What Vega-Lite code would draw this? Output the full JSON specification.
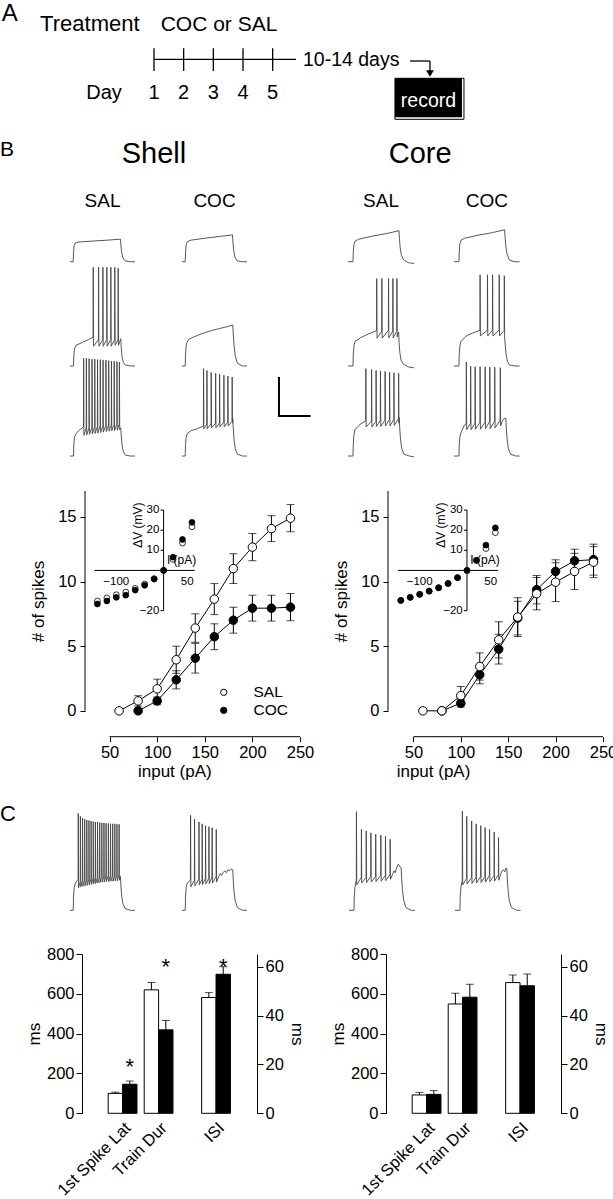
{
"$schema":"https://vega.github.io/schema/vega-lite/v6.json",
"background":"white",
"padding":0,
"spacing":0,
"resolve":{"scale":{"fill":"independent"},"legend":{"fill":"independent"}},
"config":{
 "font":"Liberation Sans",
 "view":{"stroke":null},
 "axis":{"labelFont":"Liberation Sans","titleFont":"Liberation Sans","labelColor":"black","titleColor":"black","domainColor":"black","tickColor":"black","titleFontWeight":"normal","grid":false,"labelFontSize":16.5,"titleFontSize":17,"domainWidth":1,"tickWidth":1,"labelOverlap":false,"labelSeparation":0},
 "legend":{"labelFont":"Liberation Sans","labelColor":"black"},
 "title":{"font":"Liberation Sans","fontWeight":"normal","color":"black"},
 "text":{"font":"Liberation Sans","color":"black"},
 "line":{"strokeJoin":"round","strokeCap":"butt"}
},
"datasets":{
 "sS1":[{"t":0,"v":-80},{"t":21,"v":-80},{"t":23,"v":-70},{"t":27,"v":-63},{"t":35,"v":-60},{"t":60,"v":-59},{"t":150,"v":-58},{"t":250,"v":-57},{"t":330,"v":-56},{"t":333,"v":-63},{"t":338,"v":-70},{"t":346,"v":-76},{"t":360,"v":-79},{"t":390,"v":-80},{"t":425,"v":-80}],
 "sC1":[{"t":0,"v":-80},{"t":21,"v":-80},{"t":23,"v":-70},{"t":27,"v":-62},{"t":35,"v":-58.5},{"t":60,"v":-57},{"t":150,"v":-55},{"t":250,"v":-53},{"t":330,"v":-51.5},{"t":333,"v":-59},{"t":338,"v":-68},{"t":346,"v":-75},{"t":360,"v":-79},{"t":390,"v":-80},{"t":425,"v":-80}],
 "cS1":[{"t":0,"v":-80},{"t":32,"v":-80},{"t":34,"v":-70},{"t":38,"v":-62},{"t":46,"v":-58},{"t":70,"v":-56},{"t":150,"v":-53},{"t":250,"v":-50},{"t":328,"v":-47},{"t":331,"v":-55},{"t":336,"v":-65},{"t":344,"v":-73},{"t":358,"v":-78},{"t":390,"v":-81},{"t":425,"v":-82}],
 "cC1":[{"t":0,"v":-80},{"t":32,"v":-80},{"t":34,"v":-70},{"t":38,"v":-61},{"t":46,"v":-57},{"t":70,"v":-55},{"t":150,"v":-52},{"t":250,"v":-49},{"t":328,"v":-46},{"t":331,"v":-54},{"t":336,"v":-64},{"t":344,"v":-72},{"t":358,"v":-78},{"t":390,"v":-80},{"t":425,"v":-80}],
 "sS2":[{"t":0,"v":-80},{"t":23,"v":-80},{"t":25,"v":-70},{"t":29,"v":-62},{"t":40,"v":-58},{"t":80,"v":-55},{"t":120,"v":-52},{"t":151,"v":-49.5},{"t":152,"v":25},{"t":154,"v":-59},{"t":186,"v":-52},{"t":187,"v":25},{"t":189,"v":-59},{"t":214,"v":-52},{"t":215,"v":25},{"t":217,"v":-59},{"t":240,"v":-52},{"t":241,"v":25},{"t":243,"v":-59},{"t":266,"v":-52},{"t":267,"v":25},{"t":269,"v":-59},{"t":292,"v":-52},{"t":293,"v":25},{"t":295,"v":-58},{"t":314,"v":-52},{"t":315,"v":24},{"t":317,"v":-58},{"t":332,"v":-51},{"t":335,"v":-60},{"t":340,"v":-70},{"t":348,"v":-76},{"t":362,"v":-79},{"t":395,"v":-80},{"t":425,"v":-80}],
 "sC2":[{"t":0,"v":-80},{"t":21,"v":-80},{"t":23,"v":-68},{"t":26,"v":-60},{"t":32,"v":-55},{"t":45,"v":-51.5},{"t":100,"v":-47.5},{"t":150,"v":-44.5},{"t":200,"v":-42},{"t":250,"v":-40},{"t":300,"v":-38},{"t":332,"v":-36.5},{"t":335,"v":-46},{"t":340,"v":-58},{"t":348,"v":-69},{"t":362,"v":-77},{"t":395,"v":-80},{"t":425,"v":-80}],
 "cS2":[{"t":0,"v":-80},{"t":32,"v":-80},{"t":34,"v":-68},{"t":38,"v":-59},{"t":45,"v":-54},{"t":80,"v":-50},{"t":130,"v":-46},{"t":184,"v":-42.5},{"t":185,"v":13},{"t":187,"v":-50.5},{"t":217,"v":-43},{"t":218,"v":13},{"t":220,"v":-50.5},{"t":260,"v":-42},{"t":261,"v":13},{"t":263,"v":-50},{"t":288,"v":-43},{"t":289,"v":13},{"t":291,"v":-50},{"t":314,"v":-43},{"t":315,"v":13},{"t":317,"v":-49},{"t":326,"v":-44},{"t":329,"v":-55},{"t":334,"v":-66},{"t":342,"v":-74},{"t":356,"v":-78},{"t":390,"v":-81},{"t":425,"v":-82}],
 "cC2":[{"t":0,"v":-80},{"t":32,"v":-80},{"t":34,"v":-68},{"t":38,"v":-59},{"t":45,"v":-54},{"t":80,"v":-48},{"t":120,"v":-45},{"t":168,"v":-42},{"t":169,"v":17},{"t":171,"v":-48},{"t":216,"v":-42},{"t":217,"v":17},{"t":219,"v":-48},{"t":249,"v":-42},{"t":250,"v":17},{"t":252,"v":-48},{"t":292,"v":-42},{"t":293,"v":17},{"t":295,"v":-48},{"t":325,"v":-42},{"t":326,"v":16},{"t":328,"v":-50},{"t":332,"v":-58},{"t":338,"v":-68},{"t":346,"v":-75},{"t":360,"v":-79},{"t":395,"v":-80},{"t":425,"v":-80}],
 "sS3":[{"t":0,"v":-80},{"t":23,"v":-80},{"t":25,"v":-68},{"t":29,"v":-60},{"t":40,"v":-56},{"t":65,"v":-52},{"t":88,"v":-49},{"t":89,"v":24},{"t":91,"v":-58},{"t":106,"v":-50},{"t":107,"v":24},{"t":109,"v":-57.5},{"t":124,"v":-50},{"t":125,"v":23.5},{"t":127,"v":-57},{"t":143,"v":-49.5},{"t":144,"v":23},{"t":146,"v":-56.5},{"t":161,"v":-49},{"t":162,"v":23},{"t":164,"v":-56},{"t":179,"v":-48.5},{"t":180,"v":22.5},{"t":182,"v":-55.5},{"t":197,"v":-48},{"t":198,"v":22.5},{"t":200,"v":-55},{"t":215,"v":-48},{"t":216,"v":22},{"t":218,"v":-54.5},{"t":234,"v":-47.5},{"t":235,"v":22},{"t":237,"v":-54},{"t":252,"v":-47},{"t":253,"v":21.5},{"t":255,"v":-53.5},{"t":270,"v":-47},{"t":271,"v":21},{"t":273,"v":-53},{"t":288,"v":-46.5},{"t":289,"v":21},{"t":291,"v":-53},{"t":306,"v":-46},{"t":307,"v":20.5},{"t":309,"v":-52.5},{"t":322,"v":-46},{"t":323,"v":20},{"t":325,"v":-52},{"t":332,"v":-50},{"t":335,"v":-58},{"t":340,"v":-68},{"t":348,"v":-75},{"t":362,"v":-79},{"t":395,"v":-80},{"t":425,"v":-80}],
 "sC3":[{"t":0,"v":-80},{"t":21,"v":-80},{"t":23,"v":-68},{"t":27,"v":-60},{"t":35,"v":-56},{"t":60,"v":-53},{"t":100,"v":-51},{"t":140,"v":-48},{"t":141,"v":13},{"t":143,"v":-51},{"t":162,"v":-46},{"t":163,"v":11},{"t":165,"v":-51},{"t":190,"v":-46},{"t":191,"v":9},{"t":193,"v":-50},{"t":219,"v":-45},{"t":220,"v":8},{"t":222,"v":-50},{"t":245,"v":-45},{"t":246,"v":7},{"t":248,"v":-49},{"t":273,"v":-44},{"t":274,"v":6},{"t":276,"v":-49},{"t":299,"v":-44},{"t":300,"v":5},{"t":302,"v":-48},{"t":327,"v":-43},{"t":328,"v":4},{"t":330,"v":-45},{"t":332,"v":-40},{"t":335,"v":-50},{"t":340,"v":-62},{"t":348,"v":-72},{"t":362,"v":-78},{"t":395,"v":-80},{"t":425,"v":-80}],
 "cS3":[{"t":0,"v":-80},{"t":32,"v":-80},{"t":34,"v":-68},{"t":38,"v":-58},{"t":45,"v":-52},{"t":80,"v":-46},{"t":114,"v":-42.5},{"t":115,"v":13},{"t":117,"v":-49},{"t":151,"v":-43},{"t":152,"v":12},{"t":154,"v":-49},{"t":180,"v":-43},{"t":181,"v":11},{"t":183,"v":-48.5},{"t":208,"v":-42},{"t":209,"v":10.5},{"t":211,"v":-48.5},{"t":238,"v":-42},{"t":239,"v":10},{"t":241,"v":-48},{"t":267,"v":-41},{"t":268,"v":9},{"t":270,"v":-48},{"t":295,"v":-41},{"t":296,"v":8.5},{"t":298,"v":-47.5},{"t":325,"v":-40},{"t":326,"v":8},{"t":328,"v":-45},{"t":330,"v":-39},{"t":333,"v":-50},{"t":338,"v":-62},{"t":346,"v":-72},{"t":360,"v":-78},{"t":395,"v":-80},{"t":425,"v":-81}],
 "cC3":[{"t":0,"v":-80},{"t":32,"v":-80},{"t":34,"v":-68},{"t":38,"v":-60},{"t":45,"v":-55},{"t":65,"v":-48},{"t":79,"v":-45},{"t":80,"v":20},{"t":82,"v":-52},{"t":107,"v":-45},{"t":108,"v":15.5},{"t":110,"v":-52},{"t":136,"v":-45},{"t":137,"v":15},{"t":139,"v":-51.5},{"t":168,"v":-44},{"t":169,"v":15},{"t":171,"v":-51.5},{"t":201,"v":-44},{"t":202,"v":15},{"t":204,"v":-51},{"t":231,"v":-43},{"t":232,"v":14.5},{"t":234,"v":-51},{"t":263,"v":-43},{"t":264,"v":14.5},{"t":266,"v":-50},{"t":299,"v":-42},{"t":300,"v":14},{"t":302,"v":-48},{"t":315,"v":-42},{"t":325,"v":-40},{"t":336,"v":-40},{"t":339,"v":-50},{"t":344,"v":-62},{"t":352,"v":-72},{"t":366,"v":-78},{"t":400,"v":-80},{"t":425,"v":-80}],
 "sSc":[{"t":0,"v":-80},{"t":21,"v":-80},{"t":23,"v":-66},{"t":27,"v":-56},{"t":35,"v":-51},{"t":53,"v":-47},{"t":54,"v":23},{"t":56,"v":-56},{"t":67,"v":-49},{"t":68,"v":20},{"t":70,"v":-55},{"t":81,"v":-48.5},{"t":82,"v":18},{"t":84,"v":-54.5},{"t":95,"v":-48},{"t":96,"v":17},{"t":98,"v":-54},{"t":109,"v":-47.5},{"t":110,"v":16},{"t":112,"v":-53.5},{"t":123,"v":-47},{"t":124,"v":15.5},{"t":126,"v":-53},{"t":137,"v":-46.5},{"t":138,"v":15},{"t":140,"v":-52.5},{"t":151,"v":-46},{"t":152,"v":14.5},{"t":154,"v":-52},{"t":165,"v":-45.5},{"t":166,"v":14},{"t":168,"v":-51.5},{"t":179,"v":-45},{"t":180,"v":14},{"t":182,"v":-51},{"t":193,"v":-44.5},{"t":194,"v":13.5},{"t":196,"v":-50.5},{"t":207,"v":-44},{"t":208,"v":13},{"t":210,"v":-50},{"t":221,"v":-44},{"t":222,"v":13},{"t":224,"v":-50},{"t":235,"v":-43.5},{"t":236,"v":12.5},{"t":238,"v":-49.5},{"t":250,"v":-43.5},{"t":251,"v":12.5},{"t":253,"v":-49.5},{"t":264,"v":-43},{"t":265,"v":12},{"t":267,"v":-49},{"t":278,"v":-43},{"t":279,"v":12},{"t":281,"v":-49},{"t":292,"v":-42.5},{"t":293,"v":12},{"t":295,"v":-48.5},{"t":306,"v":-42.5},{"t":307,"v":11.5},{"t":309,"v":-48.5},{"t":320,"v":-42},{"t":321,"v":11.5},{"t":323,"v":-48},{"t":330,"v":-44},{"t":333,"v":-54},{"t":338,"v":-65},{"t":346,"v":-73},{"t":360,"v":-78},{"t":395,"v":-80},{"t":425,"v":-80}],
 "sCc":[{"t":0,"v":-80},{"t":21,"v":-80},{"t":23,"v":-66},{"t":27,"v":-56},{"t":35,"v":-51},{"t":55,"v":-48},{"t":56,"v":21},{"t":58,"v":-55},{"t":81,"v":-48},{"t":82,"v":17},{"t":84,"v":-54},{"t":110,"v":-47},{"t":111,"v":14},{"t":113,"v":-53},{"t":131,"v":-47},{"t":132,"v":12},{"t":134,"v":-52.5},{"t":153,"v":-46},{"t":154,"v":10},{"t":156,"v":-52},{"t":175,"v":-46},{"t":176,"v":9},{"t":178,"v":-51.5},{"t":196,"v":-45},{"t":197,"v":8},{"t":199,"v":-51},{"t":223,"v":-44},{"t":224,"v":6},{"t":226,"v":-50},{"t":240,"v":-44},{"t":250,"v":-41},{"t":258,"v":-43},{"t":268,"v":-40},{"t":280,"v":-38},{"t":290,"v":-40},{"t":300,"v":-37},{"t":312,"v":-38},{"t":322,"v":-36},{"t":332,"v":-37},{"t":335,"v":-48},{"t":340,"v":-60},{"t":348,"v":-70},{"t":362,"v":-77},{"t":395,"v":-80},{"t":425,"v":-80}],
 "cSc":[{"t":0,"v":-80},{"t":32,"v":-80},{"t":34,"v":-66},{"t":38,"v":-56},{"t":44,"v":-50},{"t":47,"v":-48},{"t":48,"v":25},{"t":50,"v":-53},{"t":79,"v":-45},{"t":80,"v":6},{"t":82,"v":-51},{"t":110,"v":-45},{"t":111,"v":4.5},{"t":113,"v":-50.5},{"t":140,"v":-44},{"t":141,"v":2.5},{"t":143,"v":-50},{"t":171,"v":-44},{"t":172,"v":1},{"t":174,"v":-49.5},{"t":204,"v":-43},{"t":205,"v":0},{"t":207,"v":-49},{"t":234,"v":-43},{"t":235,"v":-1},{"t":237,"v":-48.5},{"t":264,"v":-42},{"t":265,"v":-4.5},{"t":267,"v":-47},{"t":280,"v":-42},{"t":290,"v":-38},{"t":298,"v":-40},{"t":308,"v":-34},{"t":318,"v":-31},{"t":326,"v":-33},{"t":336,"v":-35},{"t":339,"v":-46},{"t":344,"v":-58},{"t":352,"v":-69},{"t":366,"v":-77},{"t":400,"v":-80},{"t":425,"v":-80}],
 "cCc":[{"t":0,"v":-80},{"t":32,"v":-80},{"t":34,"v":-66},{"t":38,"v":-56},{"t":44,"v":-50},{"t":47,"v":-48},{"t":48,"v":25.5},{"t":50,"v":-53},{"t":75,"v":-46},{"t":76,"v":20},{"t":78,"v":-52},{"t":107,"v":-45},{"t":108,"v":15},{"t":110,"v":-51.5},{"t":136,"v":-45},{"t":137,"v":12},{"t":139,"v":-51},{"t":166,"v":-44},{"t":167,"v":10},{"t":169,"v":-50.5},{"t":194,"v":-44},{"t":195,"v":8},{"t":197,"v":-50},{"t":223,"v":-43},{"t":224,"v":6},{"t":226,"v":-49.5},{"t":253,"v":-43},{"t":254,"v":3},{"t":256,"v":-49},{"t":281,"v":-42},{"t":282,"v":-2.5},{"t":284,"v":-48},{"t":295,"v":-42},{"t":305,"v":-38},{"t":315,"v":-37},{"t":322,"v":-39},{"t":330,"v":-35},{"t":336,"v":-36},{"t":339,"v":-47},{"t":344,"v":-59},{"t":352,"v":-70},{"t":366,"v":-77},{"t":400,"v":-80},{"t":425,"v":-80}],
 "ivm":[
  {"s":"Shell","g":"COC","i":80,"m":0,"e":0.15},{"s":"Shell","g":"COC","i":100,"m":0.77,"e":0.3},{"s":"Shell","g":"COC","i":120,"m":2.4,"e":0.7},{"s":"Shell","g":"COC","i":140,"m":4.07,"e":1.15},{"s":"Shell","g":"COC","i":160,"m":5.73,"e":1.0},{"s":"Shell","g":"COC","i":180,"m":7.01,"e":1.0},{"s":"Shell","g":"COC","i":200,"m":7.94,"e":1.0},{"s":"Shell","g":"COC","i":220,"m":7.94,"e":1.0},{"s":"Shell","g":"COC","i":240,"m":8.02,"e":1.05},
  {"s":"Shell","g":"SAL","i":60,"m":0,"e":0},{"s":"Shell","g":"SAL","i":80,"m":0.77,"e":0.4},{"s":"Shell","g":"SAL","i":100,"m":1.7,"e":0.75},{"s":"Shell","g":"SAL","i":120,"m":3.95,"e":1.05},{"s":"Shell","g":"SAL","i":140,"m":6.4,"e":1.1},{"s":"Shell","g":"SAL","i":160,"m":8.64,"e":1.2},{"s":"Shell","g":"SAL","i":180,"m":11.0,"e":1.15},{"s":"Shell","g":"SAL","i":200,"m":12.66,"e":1.05},{"s":"Shell","g":"SAL","i":220,"m":14.09,"e":1.0},{"s":"Shell","g":"SAL","i":240,"m":14.9,"e":1.05},
  {"s":"Core","g":"COC","i":80,"m":0,"e":0},{"s":"Core","g":"COC","i":100,"m":0.59,"e":0.3},{"s":"Core","g":"COC","i":120,"m":2.79,"e":0.7},{"s":"Core","g":"COC","i":140,"m":4.77,"e":1.15},{"s":"Core","g":"COC","i":160,"m":7.17,"e":1.3},{"s":"Core","g":"COC","i":180,"m":9.37,"e":1.1},{"s":"Core","g":"COC","i":200,"m":10.78,"e":0.9},{"s":"Core","g":"COC","i":220,"m":11.6,"e":0.9},{"s":"Core","g":"COC","i":240,"m":11.69,"e":1.2},
  {"s":"Core","g":"SAL","i":60,"m":0,"e":0},{"s":"Core","g":"SAL","i":80,"m":0,"e":0},{"s":"Core","g":"SAL","i":100,"m":1.18,"e":0.7},{"s":"Core","g":"SAL","i":120,"m":3.43,"e":1.05},{"s":"Core","g":"SAL","i":140,"m":5.49,"e":1.4},{"s":"Core","g":"SAL","i":160,"m":7.25,"e":1.5},{"s":"Core","g":"SAL","i":180,"m":9.06,"e":1.25},{"s":"Core","g":"SAL","i":200,"m":9.95,"e":1.5},{"s":"Core","g":"SAL","i":220,"m":10.78,"e":1.4},{"s":"Core","g":"SAL","i":240,"m":11.5,"e":1.2}
 ],
 "ivi":[
  {"s":"Shell","g":"SAL","c":-140,"dv":-15.2},{"s":"Shell","g":"SAL","c":-120,"dv":-13.7},{"s":"Shell","g":"SAL","c":-100,"dv":-12.1},{"s":"Shell","g":"SAL","c":-80,"dv":-10.8},{"s":"Shell","g":"SAL","c":-60,"dv":-8.9},{"s":"Shell","g":"SAL","c":-40,"dv":-6.8},{"s":"Shell","g":"SAL","c":-20,"dv":-4.1},{"s":"Shell","g":"SAL","c":0,"dv":0},{"s":"Shell","g":"SAL","c":20,"dv":5.5},{"s":"Shell","g":"SAL","c":40,"dv":13.6},{"s":"Shell","g":"SAL","c":60,"dv":21.7},
  {"s":"Shell","g":"COC","c":-140,"dv":-16.7},{"s":"Shell","g":"COC","c":-120,"dv":-15.2},{"s":"Shell","g":"COC","c":-100,"dv":-13.4},{"s":"Shell","g":"COC","c":-80,"dv":-12.3},{"s":"Shell","g":"COC","c":-60,"dv":-9.8},{"s":"Shell","g":"COC","c":-40,"dv":-7.4},{"s":"Shell","g":"COC","c":-20,"dv":-4.3},{"s":"Shell","g":"COC","c":0,"dv":0},{"s":"Shell","g":"COC","c":20,"dv":6.6},{"s":"Shell","g":"COC","c":40,"dv":15.4},{"s":"Shell","g":"COC","c":60,"dv":23.9},
  {"s":"Core","g":"SAL","c":-140,"dv":-14.9},{"s":"Core","g":"SAL","c":-120,"dv":-13.4},{"s":"Core","g":"SAL","c":-100,"dv":-11.9},{"s":"Core","g":"SAL","c":-80,"dv":-10.3},{"s":"Core","g":"SAL","c":-60,"dv":-8.6},{"s":"Core","g":"SAL","c":-40,"dv":-6.5},{"s":"Core","g":"SAL","c":-20,"dv":-3.6},{"s":"Core","g":"SAL","c":0,"dv":0},{"s":"Core","g":"SAL","c":20,"dv":5.0},{"s":"Core","g":"SAL","c":40,"dv":10.9},{"s":"Core","g":"SAL","c":60,"dv":18.8},
  {"s":"Core","g":"COC","c":-140,"dv":-14.9},{"s":"Core","g":"COC","c":-120,"dv":-13.4},{"s":"Core","g":"COC","c":-100,"dv":-11.9},{"s":"Core","g":"COC","c":-80,"dv":-10.3},{"s":"Core","g":"COC","c":-60,"dv":-8.6},{"s":"Core","g":"COC","c":-40,"dv":-6.5},{"s":"Core","g":"COC","c":-20,"dv":-3.6},{"s":"Core","g":"COC","c":0,"dv":0},{"s":"Core","g":"COC","c":20,"dv":5.0},{"s":"Core","g":"COC","c":40,"dv":12.6},{"s":"Core","g":"COC","c":60,"dv":21.2}
 ],
 "ivyt":[{"dv":-20},{"dv":10},{"dv":20},{"dv":30}],
 "ivxt":[{"c":-100},{"c":50}],
 "bars":[
  {"s":"Shell","ms":"1st Spike Lat","g":"SAL","v":100,"hi":106},
  {"s":"Shell","ms":"1st Spike Lat","g":"COC","v":146,"hi":162,"star":197},
  {"s":"Shell","ms":"Train Dur","g":"SAL","v":620,"hi":657},
  {"s":"Shell","ms":"Train Dur","g":"COC","v":419,"hi":466,"star":701},
  {"s":"Shell","ms":"ISI","g":"SAL","v":47.4,"hi":49.4},
  {"s":"Shell","ms":"ISI","g":"COC","v":56.9,"hi":60,"star":57.1},
  {"s":"Core","ms":"1st Spike Lat","g":"SAL","v":92,"hi":105},
  {"s":"Core","ms":"1st Spike Lat","g":"COC","v":95,"hi":114},
  {"s":"Core","ms":"Train Dur","g":"SAL","v":549,"hi":603},
  {"s":"Core","ms":"Train Dur","g":"COC","v":583,"hi":648},
  {"s":"Core","ms":"ISI","g":"SAL","v":53.5,"hi":56.6},
  {"s":"Core","ms":"ISI","g":"COC","v":52.2,"hi":57}
 ]
},
"vconcat":[
 {
  "width":613,"height":138,
  "data":{"values":[{}]},
  "layer":[
   {"mark":{"type":"text","text":"A","fontSize":24,"baseline":"middle"},"encoding":{"x":{"datum":-3.863,"type":"quantitative","scale":{"domain":[-4.19,16.47],"nice":false,"zero":false},"axis":null},"y":{"datum":1.35,"type":"quantitative","scale":{"domain":[0,13.8],"reverse":true,"nice":false,"zero":false},"axis":null}}},
   {"mark":{"type":"text","text":"Treatment","fontSize":22,"baseline":"alphabetic"},"encoding":{"x":{"datum":-1.163,"type":"quantitative","axis":null},"y":{"datum":3.07,"type":"quantitative","axis":null}}},
   {"mark":{"type":"text","text":"COC or SAL","fontSize":21,"baseline":"alphabetic"},"encoding":{"x":{"datum":3.19,"type":"quantitative","axis":null},"y":{"datum":3.07,"type":"quantitative","axis":null}}},
   {"mark":{"type":"rule","color":"black","strokeWidth":1.3},"encoding":{"x":{"datum":1,"type":"quantitative","axis":null},"x2":{"datum":5.785},"y":{"datum":5.93,"type":"quantitative","axis":null}}},
   {"data":{"values":[{"d":1},{"d":2},{"d":3},{"d":4},{"d":5}]},"mark":{"type":"rule","color":"black","strokeWidth":1.3},"encoding":{"x":{"field":"d","type":"quantitative","axis":null},"y":{"datum":4.83,"type":"quantitative","axis":null},"y2":{"datum":7.1}}},
   {"data":{"values":[{"d":1},{"d":2},{"d":3},{"d":4},{"d":5}]},"mark":{"type":"text","fontSize":20,"baseline":"alphabetic"},"encoding":{"x":{"field":"d","type":"quantitative","axis":null},"y":{"datum":9.9,"type":"quantitative","axis":null},"text":{"field":"d","type":"quantitative"}}},
   {"mark":{"type":"text","text":"Day","fontSize":20,"baseline":"alphabetic"},"encoding":{"x":{"datum":-0.685,"type":"quantitative","axis":null},"y":{"datum":9.9,"type":"quantitative","axis":null}}},
   {"mark":{"type":"text","text":"10-14 days","fontSize":19.5,"baseline":"alphabetic","align":"left"},"encoding":{"x":{"datum":6.021,"type":"quantitative","axis":null},"y":{"datum":6.57,"type":"quantitative","axis":null}}},
   {"mark":{"type":"rule","color":"black","strokeWidth":1.3},"encoding":{"x":{"datum":9.627,"type":"quantitative","axis":null},"x2":{"datum":10.301},"y":{"datum":6.1,"type":"quantitative","axis":null}}},
   {"mark":{"type":"rule","color":"black","strokeWidth":1.3},"encoding":{"x":{"datum":10.301,"type":"quantitative","axis":null},"y":{"datum":6.1,"type":"quantitative","axis":null},"y2":{"datum":7.1}}},
   {"mark":{"type":"point","shape":"triangle-down","size":60,"filled":true,"color":"black","opacity":1},"encoding":{"x":{"datum":10.301,"type":"quantitative","axis":null},"y":{"datum":7.35,"type":"quantitative","axis":null}}},
   {"mark":{"type":"rect","fill":"white","stroke":"black","strokeWidth":1},"encoding":{"x":{"datum":9.121,"type":"quantitative","axis":null},"x2":{"datum":11.447},"y":{"datum":7.83,"type":"quantitative","axis":null},"y2":{"datum":11.93}}},
   {"mark":{"type":"rect","fill":"black"},"encoding":{"x":{"datum":9.121,"type":"quantitative","axis":null},"x2":{"datum":11.38},"y":{"datum":7.83,"type":"quantitative","axis":null},"y2":{"datum":11.73}}},
   {"mark":{"type":"text","text":"record","fontSize":19.5,"baseline":"alphabetic","color":"white"},"encoding":{"x":{"datum":10.25,"type":"quantitative","axis":null},"y":{"datum":10.67,"type":"quantitative","axis":null}}}
  ]
 },
 {
  "spacing":0,
  "hconcat":[
   {"title":{"text":"B","fontSize":21,"anchor":"start","frame":"group","offset":9.5},"width":69,"height":21.6,"data":{"values":[{}]},"mark":{"type":"point","opacity":0,"size":1}},
   {"title":{"text":"Shell","fontSize":29,"anchor":"middle","frame":"group","offset":0,"dx":-2.5},"width":175,"height":21.6,"data":{"values":[{}]},"mark":{"type":"point","opacity":0,"size":1}},
   {"width":99.3,"height":21.6,"data":{"values":[{}]},"mark":{"type":"point","opacity":0,"size":1}},
   {"title":{"text":"Core","fontSize":29,"anchor":"middle","frame":"group","offset":0,"dx":-8.3},"width":169,"height":21.6,"data":{"values":[{}]},"mark":{"type":"point","opacity":0,"size":1}}
  ]
 },
 {
  "spacing":0,
  "hconcat":[
   {"width":69,"height":1,"data":{"values":[{}]},"mark":{"type":"point","opacity":0,"size":1}},
   {"title":{"text":"SAL","fontSize":19,"anchor":"middle","frame":"group","offset":15.3},"width":65,"height":263.3,
    "layer":[
     {"data":{"name":"sS1"},"mark":{"type":"line","color":"#444","strokeWidth":0.9,"strokeJoin":"round"},"encoding":{"x":{"field":"t","type":"quantitative","scale":{"domain":[0,425],"nice":false,"zero":false},"axis":null},"y":{"field":"v","type":"quantitative","scale":{"domain":[-322.1,-42],"nice":false,"zero":false},"axis":null}}},
     {"data":{"name":"sS2"},"mark":{"type":"line","color":"#444","strokeWidth":0.9,"strokeJoin":"round"},"encoding":{"x":{"field":"t","type":"quantitative","axis":null},"y":{"field":"v","type":"quantitative","scale":{"domain":[-211.2,68.9],"nice":false,"zero":false},"axis":null}}},
     {"data":{"name":"sS3"},"mark":{"type":"line","color":"#444","strokeWidth":0.9,"strokeJoin":"round"},"encoding":{"x":{"field":"t","type":"quantitative","axis":null},"y":{"field":"v","type":"quantitative","scale":{"domain":[-115.4,164.7],"nice":false,"zero":false},"axis":null}}}
    ],
    "resolve":{"scale":{"y":"independent"}}},
   {"width":45,"height":1,"data":{"values":[{}]},"mark":{"type":"point","opacity":0,"size":1}},
   {"title":{"text":"COC","fontSize":19,"anchor":"middle","frame":"group","offset":15.3},"width":65,"height":263.3,
    "layer":[
     {"data":{"name":"sC1"},"mark":{"type":"line","color":"#444","strokeWidth":0.9,"strokeJoin":"round"},"encoding":{"x":{"field":"t","type":"quantitative","scale":{"domain":[0,425],"nice":false,"zero":false},"axis":null},"y":{"field":"v","type":"quantitative","scale":{"domain":[-322.1,-42],"nice":false,"zero":false},"axis":null}}},
     {"data":{"name":"sC2"},"mark":{"type":"line","color":"#444","strokeWidth":0.9,"strokeJoin":"round"},"encoding":{"x":{"field":"t","type":"quantitative","axis":null},"y":{"field":"v","type":"quantitative","scale":{"domain":[-211.2,68.9],"nice":false,"zero":false},"axis":null}}},
     {"data":{"name":"sC3"},"mark":{"type":"line","color":"#444","strokeWidth":0.9,"strokeJoin":"round"},"encoding":{"x":{"field":"t","type":"quantitative","axis":null},"y":{"field":"v","type":"quantitative","scale":{"domain":[-115.4,164.7],"nice":false,"zero":false},"axis":null}}},
     {"data":{"values":[{}]},"mark":{"type":"rule","color":"black","strokeWidth":2,"strokeCap":"square"},"encoding":{"x":{"datum":634,"type":"quantitative","axis":null},"y":{"datum":-37.4,"type":"quantitative","scale":{"domain":[-115.4,164.7],"nice":false,"zero":false},"axis":null},"y2":{"datum":3.0}}},
     {"data":{"values":[{}]},"mark":{"type":"rule","color":"black","strokeWidth":2,"strokeCap":"square"},"encoding":{"x":{"datum":634,"type":"quantitative","axis":null},"x2":{"datum":834},"y":{"datum":-37.4,"type":"quantitative","scale":{"domain":[-115.4,164.7],"nice":false,"zero":false},"axis":null}}}
    ],
    "resolve":{"scale":{"y":"independent"}}},
   {"width":35.6,"height":1,"data":{"values":[{}]},"mark":{"type":"point","opacity":0,"size":1}},
   {"title":{"text":"SAL","fontSize":19,"anchor":"middle","frame":"group","offset":15.3},"width":66,"height":263.3,
    "layer":[
     {"data":{"name":"cS1"},"mark":{"type":"line","color":"#444","strokeWidth":0.9,"strokeJoin":"round"},"encoding":{"x":{"field":"t","type":"quantitative","scale":{"domain":[0,425],"nice":false,"zero":false},"axis":null},"y":{"field":"v","type":"quantitative","scale":{"domain":[-322.1,-42],"nice":false,"zero":false},"axis":null}}},
     {"data":{"name":"cS2"},"mark":{"type":"line","color":"#444","strokeWidth":0.9,"strokeJoin":"round"},"encoding":{"x":{"field":"t","type":"quantitative","axis":null},"y":{"field":"v","type":"quantitative","scale":{"domain":[-211.2,68.9],"nice":false,"zero":false},"axis":null}}},
     {"data":{"name":"cS3"},"mark":{"type":"line","color":"#444","strokeWidth":0.9,"strokeJoin":"round"},"encoding":{"x":{"field":"t","type":"quantitative","axis":null},"y":{"field":"v","type":"quantitative","scale":{"domain":[-115.4,164.7],"nice":false,"zero":false},"axis":null}}}
    ],
    "resolve":{"scale":{"y":"independent"}}},
   {"width":37.4,"height":1,"data":{"values":[{}]},"mark":{"type":"point","opacity":0,"size":1}},
   {"title":{"text":"COC","fontSize":19,"anchor":"middle","frame":"group","offset":15.3},"width":65.6,"height":263.3,
    "layer":[
     {"data":{"name":"cC1"},"mark":{"type":"line","color":"#444","strokeWidth":0.9,"strokeJoin":"round"},"encoding":{"x":{"field":"t","type":"quantitative","scale":{"domain":[0,425],"nice":false,"zero":false},"axis":null},"y":{"field":"v","type":"quantitative","scale":{"domain":[-322.1,-42],"nice":false,"zero":false},"axis":null}}},
     {"data":{"name":"cC2"},"mark":{"type":"line","color":"#444","strokeWidth":0.9,"strokeJoin":"round"},"encoding":{"x":{"field":"t","type":"quantitative","axis":null},"y":{"field":"v","type":"quantitative","scale":{"domain":[-211.2,68.9],"nice":false,"zero":false},"axis":null}}},
     {"data":{"name":"cC3"},"mark":{"type":"line","color":"#444","strokeWidth":0.9,"strokeJoin":"round"},"encoding":{"x":{"field":"t","type":"quantitative","axis":null},"y":{"field":"v","type":"quantitative","scale":{"domain":[-115.4,164.7],"nice":false,"zero":false},"axis":null}}}
    ],
    "resolve":{"scale":{"y":"independent"}}}
  ]
 },
 {
  "spacing":0,
  "resolve":{"scale":{"fill":"independent"},"legend":{"fill":"independent"}},
  "hconcat":[
   {"width":28.4,"height":311.5,"data":{"values":[{}]},"mark":{"type":"point","opacity":0,"size":1}},
   {
    "width":215,"height":245.7,
    "layer":[
     {"data":{"name":"ivm"},"transform":[{"filter":"datum.s==='Shell'"}],
      "layer":[
       {"data":{"values":[{}]},"mark":{"type":"rule","color":"black","strokeWidth":1},"encoding":{
         "x":{"datum":24.2,"type":"quantitative","title":"input (pA)","scale":{"domain":[24.2,250],"nice":false,"zero":false},"axis":{"values":[50,100,150,200,250],"domain":false,"title":"input (pA)","titleX":89.3,"titlePadding":2,"tickSize":5,"labelPadding":3,"labelFlush":false,"labelOverlap":false}},
         "y":{"datum":0,"type":"quantitative","title":"# of spikes","scale":{"domain":[-2,17],"nice":false,"zero":false},"axis":{"values":[0,5,10,15],"domain":false,"title":"# of spikes","titlePadding":10,"titleY":110,"tickSize":5,"labelPadding":4,"labelOverlap":false}},
         "y2":{"datum":17}}},
       {"data":{"values":[{}]},"mark":{"type":"rule","color":"black","strokeWidth":1},"encoding":{"x":{"datum":50,"type":"quantitative","title":"input (pA)"},"x2":{"datum":250},"y":{"datum":-2,"type":"quantitative","title":"# of spikes"}}},
       {"mark":{"type":"line","color":"black","strokeWidth":1,"strokeJoin":"round"},"encoding":{"x":{"field":"i","type":"quantitative","title":"input (pA)"},"y":{"field":"m","type":"quantitative","title":"# of spikes"},"detail":{"field":"g","type":"nominal"}}},
       {"mark":{"type":"errorbar","ticks":{"size":8,"color":"black"},"rule":{"color":"black"}},"encoding":{"x":{"field":"i","type":"quantitative","title":"input (pA)"},"y":{"field":"m","type":"quantitative","title":"# of spikes"},"yError":{"field":"e"},"detail":{"field":"g","type":"nominal"}}},
       {"mark":{"type":"point","shape":"circle","size":72,"filled":true,"stroke":"black","strokeWidth":1,"opacity":1},"encoding":{"x":{"field":"i","type":"quantitative","title":"input (pA)"},"y":{"field":"m","type":"quantitative","title":"# of spikes"},"fill":{"field":"g","type":"nominal","scale":{"domain":["SAL","COC"],"range":["white","black"]},"legend":{"title":null,"orient":"none","legendX":131,"legendY":193.6,"labelFontSize":15.5,"symbolSize":40,"symbolStrokeColor":"black","symbolStrokeWidth":1,"labelOffset":22,"rowPadding":1,"padding":0,"symbolType":"circle"}}}}
      ]},
     {"layer":[
       {"data":{"values":[{}]},"mark":{"type":"rule","color":"black","strokeWidth":1},"encoding":{
         "x":{"datum":0,"type":"quantitative","scale":{"domain":[-166.2,288.4],"nice":false,"zero":false},"axis":null},
         "y":{"datum":-20,"type":"quantitative","scale":{"domain":[-82.7,39.5],"nice":false,"zero":false},"axis":null},
         "y2":{"datum":30}}},
       {"data":{"values":[{}]},"mark":{"type":"rule","color":"black","strokeWidth":1},"encoding":{"x":{"datum":-146,"type":"quantitative"},"x2":{"datum":66},"y":{"datum":0,"type":"quantitative"}}},
       {"data":{"name":"ivyt"},"mark":{"type":"rule","color":"black","strokeWidth":1},"encoding":{"x":{"datum":-6.5,"type":"quantitative"},"x2":{"datum":0},"y":{"field":"dv","type":"quantitative"}}},
       {"data":{"name":"ivyt"},"mark":{"type":"text","fontSize":11.5,"align":"right","baseline":"middle"},"encoding":{"x":{"datum":-9,"type":"quantitative"},"y":{"field":"dv","type":"quantitative"},"text":{"field":"dv","type":"quantitative"}}},
       {"data":{"name":"ivxt"},"mark":{"type":"text","fontSize":11.5,"align":"center","baseline":"middle"},"encoding":{"x":{"field":"c","type":"quantitative"},"y":{"datum":-6,"type":"quantitative"},"text":{"field":"c","type":"quantitative"}}},
       {"data":{"name":"ivi"},"transform":[{"filter":"datum.s==='Shell'"}],"mark":{"type":"point","shape":"circle","size":34,"filled":true,"stroke":"black","strokeWidth":0.8,"opacity":1},"encoding":{"x":{"field":"c","type":"quantitative"},"y":{"field":"dv","type":"quantitative"},"fill":{"field":"g","type":"nominal"}}},
       {"data":{"values":[{}]},"mark":{"type":"text","text":"ΔV (mV)","angle":270,"fontSize":12},"encoding":{"x":{"datum":-55,"type":"quantitative"},"y":{"datum":22.5,"type":"quantitative"}}},
       {"data":{"values":[{}]},"mark":{"type":"text","text":"I (pA)","fontSize":12},"encoding":{"x":{"datum":38,"type":"quantitative"},"y":{"datum":5,"type":"quantitative"}}}
     ]}
    ],
    "resolve":{"scale":{"x":"independent","y":"independent"}}
   },
   {"width":17.5,"height":1,"data":{"values":[{}]},"mark":{"type":"point","opacity":0,"size":1}},
   {
    "width":215,"height":245.7,
    "layer":[
     {"data":{"name":"ivm"},"transform":[{"filter":"datum.s==='Core'"}],
      "layer":[
       {"data":{"values":[{}]},"mark":{"type":"rule","color":"black","strokeWidth":1},"encoding":{
         "x":{"datum":23.2,"type":"quantitative","title":"input (pA)","scale":{"domain":[23.2,250],"nice":false,"zero":false},"axis":{"values":[50,100,150,200,250],"domain":false,"title":"input (pA)","titleX":45,"titlePadding":2,"tickSize":5,"labelPadding":3,"labelFlush":false,"labelOverlap":false}},
         "y":{"datum":0,"type":"quantitative","title":"# of spikes","scale":{"domain":[-2,17],"nice":false,"zero":false},"axis":{"values":[0,5,10,15],"domain":false,"title":"# of spikes","titlePadding":10,"titleY":110,"tickSize":5,"labelPadding":4,"labelOverlap":false}},
         "y2":{"datum":17}}},
       {"data":{"values":[{}]},"mark":{"type":"rule","color":"black","strokeWidth":1},"encoding":{"x":{"datum":50,"type":"quantitative","title":"input (pA)"},"x2":{"datum":250},"y":{"datum":-2,"type":"quantitative","title":"# of spikes"}}},
       {"mark":{"type":"line","color":"black","strokeWidth":1,"strokeJoin":"round"},"encoding":{"x":{"field":"i","type":"quantitative","title":"input (pA)"},"y":{"field":"m","type":"quantitative","title":"# of spikes"},"detail":{"field":"g","type":"nominal"}}},
       {"mark":{"type":"errorbar","ticks":{"size":8,"color":"black"},"rule":{"color":"black"}},"encoding":{"x":{"field":"i","type":"quantitative","title":"input (pA)"},"y":{"field":"m","type":"quantitative","title":"# of spikes"},"yError":{"field":"e"},"detail":{"field":"g","type":"nominal"}}},
       {"mark":{"type":"point","shape":"circle","size":72,"filled":true,"stroke":"black","strokeWidth":1,"opacity":1},"encoding":{"x":{"field":"i","type":"quantitative","title":"input (pA)"},"y":{"field":"m","type":"quantitative","title":"# of spikes"},"fill":{"field":"g","type":"nominal","scale":{"domain":["SAL","COC"],"range":["white","black"]},"legend":null}}}
      ]},
     {"layer":[
       {"data":{"values":[{}]},"mark":{"type":"rule","color":"black","strokeWidth":1},"encoding":{
         "x":{"datum":0,"type":"quantitative","scale":{"domain":[-167,287.5],"nice":false,"zero":false},"axis":null},
         "y":{"datum":-20,"type":"quantitative","scale":{"domain":[-82.7,39.5],"nice":false,"zero":false},"axis":null},
         "y2":{"datum":30}}},
       {"data":{"values":[{}]},"mark":{"type":"rule","color":"black","strokeWidth":1},"encoding":{"x":{"datum":-146,"type":"quantitative"},"x2":{"datum":66},"y":{"datum":0,"type":"quantitative"}}},
       {"data":{"name":"ivyt"},"mark":{"type":"rule","color":"black","strokeWidth":1},"encoding":{"x":{"datum":-6.5,"type":"quantitative"},"x2":{"datum":0},"y":{"field":"dv","type":"quantitative"}}},
       {"data":{"name":"ivyt"},"mark":{"type":"text","fontSize":11.5,"align":"right","baseline":"middle"},"encoding":{"x":{"datum":-9,"type":"quantitative"},"y":{"field":"dv","type":"quantitative"},"text":{"field":"dv","type":"quantitative"}}},
       {"data":{"name":"ivxt"},"mark":{"type":"text","fontSize":11.5,"align":"center","baseline":"middle"},"encoding":{"x":{"field":"c","type":"quantitative"},"y":{"datum":-6,"type":"quantitative"},"text":{"field":"c","type":"quantitative"}}},
       {"data":{"name":"ivi"},"transform":[{"filter":"datum.s==='Core'"}],"mark":{"type":"point","shape":"circle","size":34,"filled":true,"stroke":"black","strokeWidth":0.8,"opacity":1},"encoding":{"x":{"field":"c","type":"quantitative"},"y":{"field":"dv","type":"quantitative"},"fill":{"field":"g","type":"nominal"}}},
       {"data":{"values":[{}]},"mark":{"type":"text","text":"ΔV (mV)","angle":270,"fontSize":12},"encoding":{"x":{"datum":-55,"type":"quantitative"},"y":{"datum":22.5,"type":"quantitative"}}},
       {"data":{"values":[{}]},"mark":{"type":"text","text":"I (pA)","fontSize":12},"encoding":{"x":{"datum":38,"type":"quantitative"},"y":{"datum":5,"type":"quantitative"}}}
     ]}
    ],
    "resolve":{"scale":{"x":"independent","y":"independent"}}
   }
  ]
 },
 {
  "spacing":0,
  "hconcat":[
   {"title":{"text":"C","fontSize":22,"anchor":"start","frame":"group","offset":0},"width":69,"height":1,"data":{"values":[{}]},"mark":{"type":"point","opacity":0,"size":1}},
   {"width":65,"height":120,"data":{"name":"sSc"},"mark":{"type":"line","color":"#444","strokeWidth":0.9,"strokeJoin":"round"},"encoding":{"x":{"field":"t","type":"quantitative","scale":{"domain":[0,425],"nice":false,"zero":false},"axis":null},"y":{"field":"v","type":"quantitative","scale":{"domain":[-117.98,9.68],"nice":false,"zero":false},"axis":null}}},
   {"width":45,"height":1,"data":{"values":[{}]},"mark":{"type":"point","opacity":0,"size":1}},
   {"width":65,"height":120,"data":{"name":"sCc"},"mark":{"type":"line","color":"#444","strokeWidth":0.9,"strokeJoin":"round"},"encoding":{"x":{"field":"t","type":"quantitative","scale":{"domain":[0,425],"nice":false,"zero":false},"axis":null},"y":{"field":"v","type":"quantitative","scale":{"domain":[-117.98,9.68],"nice":false,"zero":false},"axis":null}}},
   {"width":99.3,"height":1,"data":{"values":[{}]},"mark":{"type":"point","opacity":0,"size":1}},
   {"width":66,"height":120,"data":{"name":"cSc"},"mark":{"type":"line","color":"#444","strokeWidth":0.9,"strokeJoin":"round"},"encoding":{"x":{"field":"t","type":"quantitative","scale":{"domain":[0,425],"nice":false,"zero":false},"axis":null},"y":{"field":"v","type":"quantitative","scale":{"domain":[-117.98,9.68],"nice":false,"zero":false},"axis":null}}},
   {"width":37.4,"height":1,"data":{"values":[{}]},"mark":{"type":"point","opacity":0,"size":1}},
   {"width":65.6,"height":120,"data":{"name":"cCc"},"mark":{"type":"line","color":"#444","strokeWidth":0.9,"strokeJoin":"round"},"encoding":{"x":{"field":"t","type":"quantitative","scale":{"domain":[0,425],"nice":false,"zero":false},"axis":null},"y":{"field":"v","type":"quantitative","scale":{"domain":[-117.98,9.68],"nice":false,"zero":false},"axis":null}}}
  ]
 },
 {
  "spacing":0,
  "resolve":{"scale":{"fill":"independent"},"legend":{"fill":"independent"}},
  "hconcat":[
   {"width":25,"height":1,"data":{"values":[{}]},"mark":{"type":"point","opacity":0,"size":1}},
   {
    "width":175,"height":159.3,
    "data":{"name":"bars"},
    "transform":[{"filter":"datum.s==='Shell'"}],
    "layer":[
     {"transform":[{"filter":"datum.ms!=='ISI'"}],"layer":[
       {"mark":{"type":"bar","stroke":"black","strokeWidth":1},"encoding":{
         "x":{"field":"ms","type":"nominal","scale":{"domain":["1st Spike Lat","Train Dur","_a","_b"],"paddingInner":0.2,"paddingOuter":0.53,"align":0.686},"axis":{"values":["1st Spike Lat","Train Dur"],"orient":"bottom","labelAngle":-45,"domain":false,"ticks":false,"title":null,"labelPadding":6}},
         "xOffset":{"field":"g","type":"nominal","scale":{"domain":["SAL","COC"],"paddingInner":0,"paddingOuter":0}},
         "y":{"field":"v","type":"quantitative","title":"ms","scale":{"domain":[0,800],"nice":false},"axis":{"orient":"left","values":[0,200,400,600,800],"title":"ms","tickSize":6,"labelPadding":2,"titlePadding":3,"labelOverlap":false}},
         "fill":{"field":"g","type":"nominal","scale":{"domain":["SAL","COC"],"range":["white","black"]},"legend":null}}},
       {"mark":{"type":"rule","color":"black","strokeWidth":1},"encoding":{"x":{"field":"ms","type":"nominal"},"xOffset":{"field":"g","type":"nominal"},"y":{"field":"v","type":"quantitative","title":"ms","axis":{"orient":"left","values":[0,200,400,600,800],"title":"ms","tickSize":6,"labelPadding":2,"titlePadding":3,"labelOverlap":false}},"y2":{"field":"hi"}}},
       {"mark":{"type":"tick","orient":"horizontal","size":8,"thickness":1,"color":"black"},"encoding":{"x":{"field":"ms","type":"nominal"},"xOffset":{"field":"g","type":"nominal"},"y":{"field":"hi","type":"quantitative","title":"ms","axis":{"orient":"left","values":[0,200,400,600,800],"title":"ms","tickSize":6,"labelPadding":2,"titlePadding":3,"labelOverlap":false}}}},
       {"transform":[{"filter":"isValid(datum.star)"}],"mark":{"type":"text","text":"*","fontSize":22,"baseline":"alphabetic"},"encoding":{"x":{"field":"ms","type":"nominal"},"xOffset":{"field":"g","type":"nominal"},"y":{"field":"star","type":"quantitative","title":"ms","axis":{"orient":"left","values":[0,200,400,600,800],"title":"ms","tickSize":6,"labelPadding":2,"titlePadding":3,"labelOverlap":false}}}}
     ]},
     {"transform":[{"filter":"datum.ms==='ISI'"}],"layer":[
       {"mark":{"type":"bar","stroke":"black","strokeWidth":1},"encoding":{
         "x":{"field":"ms","type":"nominal","scale":{"domain":["_c","_d","_e","ISI"],"paddingInner":0.2,"paddingOuter":0.53,"align":0.304},"axis":{"values":["ISI"],"orient":"bottom","labelAngle":-45,"domain":false,"ticks":false,"title":null,"labelPadding":6}},
         "xOffset":{"field":"g","type":"nominal","scale":{"domain":["SAL","COC"],"paddingInner":0,"paddingOuter":0}},
         "y":{"field":"v","type":"quantitative","title":"ms","scale":{"domain":[0,65.2],"nice":false},"axis":{"orient":"right","values":[0,20,40,60],"title":"ms","tickSize":6,"labelPadding":2,"titlePadding":4,"labelOverlap":false}},
         "fill":{"field":"g","type":"nominal","scale":{"domain":["SAL","COC"],"range":["white","black"]},"legend":null}}},
       {"mark":{"type":"rule","color":"black","strokeWidth":1},"encoding":{"x":{"field":"ms","type":"nominal"},"xOffset":{"field":"g","type":"nominal"},"y":{"field":"v","type":"quantitative","title":"ms"},"y2":{"field":"hi"}}},
       {"mark":{"type":"tick","orient":"horizontal","size":8,"thickness":1,"color":"black"},"encoding":{"x":{"field":"ms","type":"nominal"},"xOffset":{"field":"g","type":"nominal"},"y":{"field":"hi","type":"quantitative","title":"ms"}}},
       {"transform":[{"filter":"isValid(datum.star)"}],"mark":{"type":"text","text":"*","fontSize":22,"baseline":"alphabetic"},"encoding":{"x":{"field":"ms","type":"nominal"},"xOffset":{"field":"g","type":"nominal"},"y":{"field":"star","type":"quantitative","title":"ms"}}}
     ]}
    ],
    "resolve":{"scale":{"x":"independent","y":"independent"}}
   },
   {"width":23,"height":1,"data":{"values":[{}]},"mark":{"type":"point","opacity":0,"size":1}},
   {
    "width":175,"height":159.3,
    "data":{"name":"bars"},
    "transform":[{"filter":"datum.s==='Core'"}],
    "layer":[
     {"transform":[{"filter":"datum.ms!=='ISI'"}],"layer":[
       {"mark":{"type":"bar","stroke":"black","strokeWidth":1},"encoding":{
         "x":{"field":"ms","type":"nominal","scale":{"domain":["1st Spike Lat","Train Dur","_a","_b"],"paddingInner":0.2,"paddingOuter":0.53,"align":0.686},"axis":{"values":["1st Spike Lat","Train Dur"],"orient":"bottom","labelAngle":-45,"domain":false,"ticks":false,"title":null,"labelPadding":6}},
         "xOffset":{"field":"g","type":"nominal","scale":{"domain":["SAL","COC"],"paddingInner":0,"paddingOuter":0}},
         "y":{"field":"v","type":"quantitative","title":"ms","scale":{"domain":[0,800],"nice":false},"axis":{"orient":"left","values":[0,200,400,600,800],"title":"ms","tickSize":6,"labelPadding":2,"titlePadding":3,"labelOverlap":false}},
         "fill":{"field":"g","type":"nominal","scale":{"domain":["SAL","COC"],"range":["white","black"]},"legend":null}}},
       {"mark":{"type":"rule","color":"black","strokeWidth":1},"encoding":{"x":{"field":"ms","type":"nominal"},"xOffset":{"field":"g","type":"nominal"},"y":{"field":"v","type":"quantitative","title":"ms","axis":{"orient":"left","values":[0,200,400,600,800],"title":"ms","tickSize":6,"labelPadding":2,"titlePadding":3,"labelOverlap":false}},"y2":{"field":"hi"}}},
       {"mark":{"type":"tick","orient":"horizontal","size":8,"thickness":1,"color":"black"},"encoding":{"x":{"field":"ms","type":"nominal"},"xOffset":{"field":"g","type":"nominal"},"y":{"field":"hi","type":"quantitative","title":"ms","axis":{"orient":"left","values":[0,200,400,600,800],"title":"ms","tickSize":6,"labelPadding":2,"titlePadding":3,"labelOverlap":false}}}}
     ]},
     {"transform":[{"filter":"datum.ms==='ISI'"}],"layer":[
       {"mark":{"type":"bar","stroke":"black","strokeWidth":1},"encoding":{
         "x":{"field":"ms","type":"nominal","scale":{"domain":["_c","_d","_e","ISI"],"paddingInner":0.2,"paddingOuter":0.53,"align":0.304},"axis":{"values":["ISI"],"orient":"bottom","labelAngle":-45,"domain":false,"ticks":false,"title":null,"labelPadding":6}},
         "xOffset":{"field":"g","type":"nominal","scale":{"domain":["SAL","COC"],"paddingInner":0,"paddingOuter":0}},
         "y":{"field":"v","type":"quantitative","title":"ms","scale":{"domain":[0,65.2],"nice":false},"axis":{"orient":"right","values":[0,20,40,60],"title":"ms","tickSize":6,"labelPadding":2,"titlePadding":4,"labelOverlap":false}},
         "fill":{"field":"g","type":"nominal","scale":{"domain":["SAL","COC"],"range":["white","black"]},"legend":null}}},
       {"mark":{"type":"rule","color":"black","strokeWidth":1},"encoding":{"x":{"field":"ms","type":"nominal"},"xOffset":{"field":"g","type":"nominal"},"y":{"field":"v","type":"quantitative","title":"ms"},"y2":{"field":"hi"}}},
       {"mark":{"type":"tick","orient":"horizontal","size":8,"thickness":1,"color":"black"},"encoding":{"x":{"field":"ms","type":"nominal"},"xOffset":{"field":"g","type":"nominal"},"y":{"field":"hi","type":"quantitative","title":"ms"}}}
     ]}
    ],
    "resolve":{"scale":{"x":"independent","y":"independent"}}
   }
  ]
 }
]
}
